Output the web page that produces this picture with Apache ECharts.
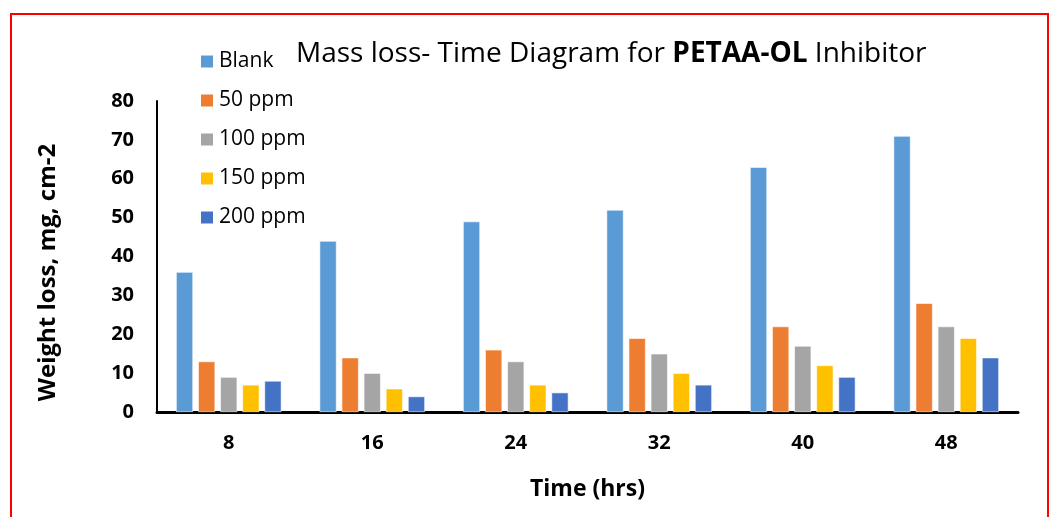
<!DOCTYPE html>
<html><head><meta charset="utf-8">
<script src="https://cdn.jsdelivr.net/npm/echarts@6/dist/echarts.min.js"></script>
<style>html,body{margin:0;padding:0;background:#fff}#c{width:1051px;height:517px}</style>
</head><body><div id="c"></div>
<script>
const categories = ['8','16','24','32','40','48'];
const seriesNames = ['Blank','50 ppm','100 ppm','150 ppm','200 ppm'];
const blank = [36,44,49,52,63,71];
const ppm50 = [13,14,16,19,22,28];
const ppm100 = [9,10,13,15,17,22];
const ppm150 = [7,6,7,10,12,19];
const ppm200 = [8,4,5,7,9,14];
const colors = ['#5B9BD5','#ED7D31','#A5A5A5','#FFC000','#4472C4'];
const allData = [blank, ppm50, ppm100, ppm150, ppm200];
const font = 'Open Sans';
const chart = echarts.init(document.getElementById('c'));
chart.setOption({
  animation:false,
  color: colors,
  graphic:[{type:'rect',shape:{x:11,y:14,width:1037,height:600},style:{fill:'none',stroke:'#FF0000',lineWidth:2},silent:true}],
  title:{
    text:'Mass loss- Time Diagram for {b|PETAA-OL} Inhibitor',
    left:291, top:35,
    textStyle:{fontFamily:font,fontSize:28,fontWeight:'normal',color:'#000',
      rich:{b:{fontFamily:font,fontSize:28,fontWeight:'bold',color:'#000'}}}
  },
  legend:{
    orient:'vertical', left:194, top:46, itemGap:18, itemWidth:14, itemHeight:14,
    icon:'rect',
    textStyle:{fontFamily:font,fontSize:21,color:'#000'},
    data: seriesNames
  },
  grid:{left:157,right:33,top:101,bottom:105,containLabel:false},
  xAxis:{
    type:'category', data:categories,
    name:'Time (hrs)', nameLocation:'middle', nameGap:66,
    nameTextStyle:{fontFamily:font,fontSize:23,fontWeight:'bold',color:'#000'},
    axisLine:{lineStyle:{color:'#000',width:3}},
    axisTick:{show:false},
    axisLabel:{fontFamily:font,fontSize:20,fontWeight:'bold',color:'#000',margin:21}
  },
  yAxis:{
    type:'value', min:0, max:80, interval:10,
    name:'Weight loss, mg, cm-2', nameLocation:'middle', nameGap:97,
    nameTextStyle:{fontFamily:font,fontSize:24,fontWeight:'bold',color:'#000',padding:[0,32,0,0]},
    axisLine:{show:true,lineStyle:{color:'#000',width:2}},
    axisTick:{show:false},
    splitLine:{show:false},
    axisLabel:{fontFamily:font,fontSize:20,fontWeight:'bold',color:'#000',margin:23}
  },
  series: seriesNames.map((n,i)=>({
    name:n, type:'bar', data:allData[i], barWidth:17, barGap:'30%',
    itemStyle:{color:colors[i],borderColor:'#fff',borderWidth:0.6}
  }))
});
</script></body></html>
